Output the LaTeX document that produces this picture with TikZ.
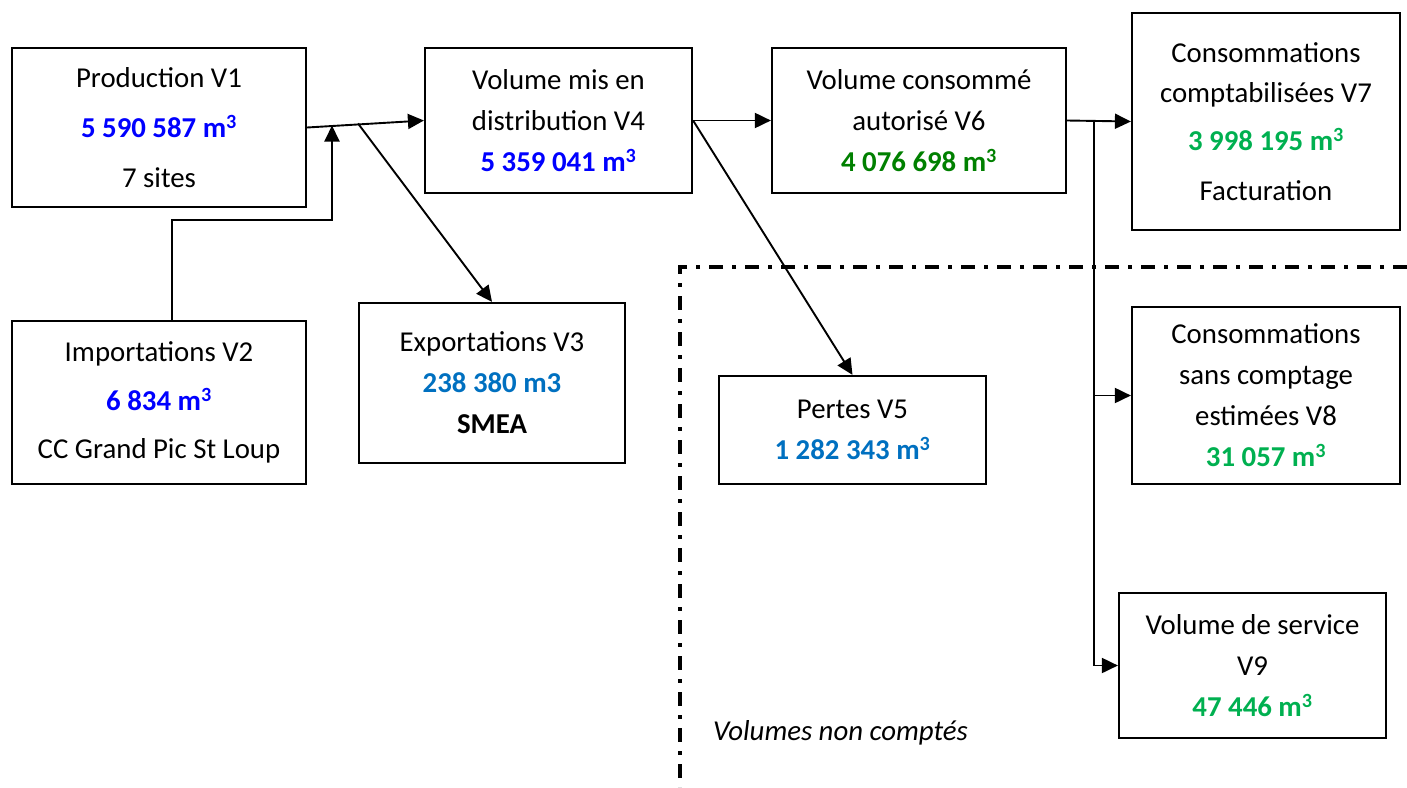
\documentclass[tikz,border=0pt]{standalone}
\usepackage{fontspec}
\setmainfont{Carlito}
\usetikzlibrary{arrows.meta}
\definecolor{vblue}{RGB}{0,0,255}
\definecolor{lblue}{RGB}{0,112,192}
\definecolor{dgreen}{RGB}{0,128,0}
\definecolor{lgreen}{RGB}{0,176,80}
\newcommand{\mcube}{m\textsuperscript{3}}
\tikzstyle{box}=[draw=black,line width=2.2pt,align=center,inner sep=0pt,font=\fontsize{28.8}{41}\selectfont]
\tikzstyle{arr}=[-{Triangle[length=16pt,width=15pt]},line width=1.9pt]
\tikzstyle{limit}=[line width=3.5pt,dash pattern=on 14pt off 9pt on 4pt off 9pt]

\begin{document}
\begin{tikzpicture}[x=1pt,y=-1pt]
  \useasboundingbox (0,0) rectangle (1407,787);

  \node[box,minimum width=294pt,minimum height=159pt] (prod) at (159,127.5)
    {Production V1\\[9pt] {\bfseries\color{vblue}5 590 587 \mcube}\\[9pt] 7 sites};
  \node[box,minimum width=294pt,minimum height=163pt] (imp) at (159,402.5)
    {Importations V2\\[7.5pt] {\bfseries\color{vblue}6 834 \mcube}\\[7.5pt] CC Grand Pic St Loup};
  \node[box,minimum width=266pt,minimum height=160pt] (exp) at (492,383)
    {Exportations V3\\ {\bfseries\color{lblue}238 380 m3}\\ \textbf{SMEA}};
  \node[box,minimum width=267pt,minimum height=145pt] (dist) at (558.5,120.5)
    {Volume mis en\\ distribution V4\\ {\bfseries\color{vblue}5 359 041 \mcube}};
  \node[box,minimum width=267pt,minimum height=108pt] (pertes) at (852.5,430)
    {Pertes V5\\ {\bfseries\color{lblue}1 282 343 \mcube}};
  \node[box,minimum width=294pt,minimum height=145pt] (auto) at (919,120.5)
    {Volume consommé\\ autorisé V6\\ {\bfseries\color{dgreen}4 076 698 \mcube}};
  \node[box,minimum width=268pt,minimum height=217pt] (compt) at (1266,121.5)
    {Consommations\\[-1pt] comptabilisées V7\\[7pt] {\bfseries\color{lgreen}3 998 195 \mcube}\\[9pt] Facturation};
  \node[box,minimum width=268pt,minimum height=177pt] (estim) at (1266,395.5)
    {Consommations\\ sans comptage\\ estimées V8\\ {\bfseries\color{lgreen}31 057 \mcube}};
  \node[box,minimum width=267pt,minimum height=145pt] (serv) at (1252.5,665.5)
    {Volume de service\\ V9\\ {\bfseries\color{lgreen}47 446 \mcube}};

  \node[anchor=base west,inner sep=0pt,font=\fontsize{28.8}{41}\selectfont\itshape] (noncpt) at (713,740) {Volumes non comptés};

  \coordinate (join) at (332,125.5);
  \coordinate (split) at (358,123.5);
  \coordinate (corner) at (680,267);

  \draw[arr] (prod.east) -- (dist.west);
  \draw[arr] ([xshift=13pt]imp.north) -- ++(0,-100) -| (join);
  \draw[arr] (split) -- (exp.north);
  \draw[arr] (dist.east) -- (auto.west);
  \draw[arr] (dist.east) -- (pertes.north);
  \draw[arr] (auto.east) -- (compt.west);
  \draw[arr] ([xshift=27pt]auto.east) |- (estim.west);
  \draw[arr] ([xshift=27pt]auto.east) |- (serv.west);

  \draw[limit] (1407,267) -- (corner) -- (680,787);
\end{tikzpicture}
\end{document}
